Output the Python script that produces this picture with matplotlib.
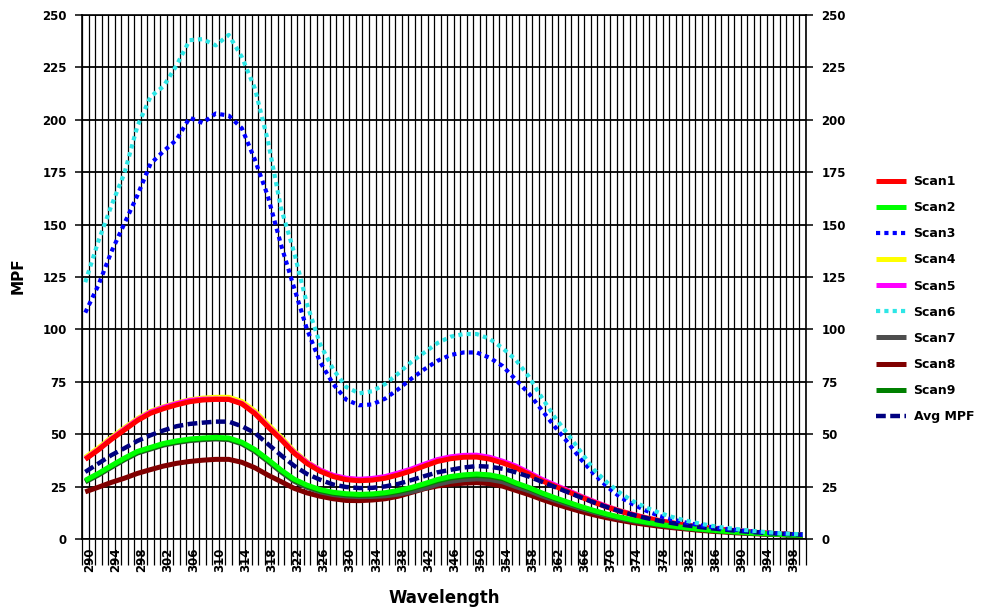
import matplotlib as mpl
mpl.use('Agg')

import numpy as np
import matplotlib.pyplot as plt
import matplotlib.transforms as mtransforms

# spectra sampled every 2 nm, 290-400 nm
wavelength = np.arange(290, 401, 2)

scan1 = [38, 42.5, 47.5, 52, 56.5, 60, 62.2, 64, 65.5, 66.3,
         66.6, 66.6, 64.5, 59.8, 53.5, 47.5, 41, 36, 32.3, 29.8,
         28.3, 27.8, 28.1, 29, 30.6, 32.5, 34.8, 37, 38.3, 39,
         39.1, 38.1, 36.3, 34, 31, 27.8, 25.2, 22.6, 20, 17.5,
         15.2, 13.2, 11.5, 10, 8.7, 7.6, 6.6, 5.7, 5, 4.4,
         3.8, 3.3, 2.9, 2.5, 2.2, 1.9]
scan2 = [28, 31.3, 35, 38.6, 41.8, 43.7, 45.6, 46.8, 47.7, 48.2,
         48.5, 48.2, 46.2, 42.7, 38, 33, 28.6, 25.7, 23.6, 22.3,
         21.6, 21.3, 21.5, 22.1, 23.2, 24.6, 26.4, 28.4, 29.8, 30.6,
         31, 30.6, 29.4, 26.8, 24.6, 22, 19.7, 17.6, 15.5, 13.6,
         11.9, 10.4, 9.1, 8, 7, 6.2, 5.4, 4.8, 4.2, 3.7,
         3.3, 2.9, 2.6, 2.3, 2, 1.8]
scan3 = [108, 121, 137, 150.5, 164, 179, 185, 190.5, 201, 198.5,
         203, 202, 196, 181, 163.5, 140.5, 120, 100, 84.5, 74,
         66.5, 63.8, 64.2, 67, 71.5, 76.5, 81, 85, 87.8, 89,
         89, 86.5, 82.5, 76, 69.5, 61.5, 53.5, 46, 38, 31,
         25, 20, 16.5, 13.5, 11, 9.3, 7.9, 6.7, 5.7, 4.9,
         4.3, 3.7, 3.2, 2.8, 2.4, 2.1]
scan4 = [38.9, 43.4, 48.4, 53, 57.4, 60.9, 63.1, 64.9, 66.4, 67.2,
         67.6, 67.6, 65.6, 61, 54.7, 48.6, 42, 36.8, 32.9, 30.3,
         28.7, 28.2, 28.5, 29.4, 31, 32.9, 35.2, 37.4, 38.7, 39.4,
         39.5, 38.5, 36.7, 34.4, 31.4, 28.2, 25.6, 23, 20.4, 17.8,
         15.5, 13.5, 11.7, 10.2, 8.9, 7.8, 6.7, 5.8, 5.1, 4.5,
         3.9, 3.4, 3, 2.6, 2.3, 2]
scan5 = [38.2, 42.7, 47.8, 52.4, 56.9, 60.5, 62.8, 64.6, 66.1, 66.7,
         66.8, 66.7, 64.7, 60.1, 53.8, 47.8, 41.4, 36.5, 32.9, 30.4,
         29, 28.5, 28.9, 29.8, 31.5, 33.4, 35.7, 37.9, 39.2, 39.9,
         40, 39, 37.1, 34.8, 31.7, 28.5, 25.8, 23.1, 20.4, 17.9,
         15.5, 13.4, 11.7, 10.1, 8.8, 7.7, 6.7, 5.8, 5.1, 4.5,
         3.9, 3.4, 2.9, 2.5, 2.2, 1.9]
scan6 = [122.5, 142, 159, 174.5, 197, 211, 216, 226, 238, 238.5,
         235.5, 240.5, 230, 215, 190, 158, 137, 112, 93, 81,
         72.5, 69.5, 70.5, 74, 79, 84.5, 89, 93.5, 96.5, 97.8,
         97.8, 95.5, 91, 85.5, 77.5, 67.5, 58, 50, 41.5, 33,
         27, 22, 18, 15, 12.5, 10.5, 8.8, 7.5, 6.3, 5.4,
         4.7, 4, 3.4, 2.9, 2.5, 2.2]
scan7 = [27.2, 30.5, 34.2, 37.8, 41, 42.9, 44.8, 46, 46.9, 47.4,
         47.7, 47.4, 45.4, 41.8, 37, 32, 27.6, 24.6, 22.5, 21.2,
         20.5, 20.2, 20.3, 20.6, 21.4, 22.6, 24.2, 26.1, 27.5, 28.3,
         28.7, 28.4, 27.3, 25, 23, 20.6, 18.5, 16.5, 14.6, 12.8,
         11.2, 9.8, 8.6, 7.6, 6.7, 5.9, 5.2, 4.6, 4.1, 3.6,
         3.2, 2.8, 2.5, 2.2, 1.9, 1.7]
scan8 = [22.5, 24.7, 27, 29, 31.3, 33.1, 34.8, 36.1, 37, 37.6,
         38, 38, 36.6, 34, 30.5, 27.4, 24.2, 22, 20.4, 19.2,
         18.4, 18.3, 18.6, 19.2, 20.4, 22.2, 24, 25.3, 26.1, 26.6,
         26.9, 26.4, 25.2, 23.2, 21.2, 18.9, 16.8, 14.9, 13.1, 11.5,
         10.1, 8.9, 7.8, 6.9, 6.1, 5.4, 4.8, 4.2, 3.7, 3.3,
         2.9, 2.6, 2.3, 2.1, 1.9, 1.7]
scan9 = [27.5, 30.8, 34.5, 38.1, 41.3, 43.2, 45.1, 46.3, 47.2, 47.7,
         48, 47.7, 45.7, 42.2, 37.5, 32.5, 28.1, 25.2, 23.1, 21.8,
         21.1, 20.8, 21, 21.6, 22.6, 24, 25.8, 27.7, 29.1, 29.9,
         30.3, 29.9, 28.8, 26.3, 24.1, 21.6, 19.3, 17.2, 15.2, 13.3,
         11.6, 10.2, 8.9, 7.8, 6.9, 6.1, 5.3, 4.7, 4.1, 3.6,
         3.2, 2.8, 2.5, 2.2, 1.9, 1.7]
avg_mpf = [32, 36, 40, 43.3, 46.8, 49.5, 51.8, 53.8, 54.9, 55.5,
           56, 56, 53.8, 50.6, 45.3, 40, 35, 31, 28.3, 26,
           24.8, 24.3, 24.4, 25.1, 26.3, 28.1, 30, 31.8, 33, 34.1,
           34.8, 34.5, 33.5, 31.8, 29.8, 27.3, 24.8, 22.3, 19.8, 17.4,
           15.2, 13.2, 11.5, 10, 8.7, 7.6, 6.6, 5.8, 5.1, 4.5,
           3.9, 3.4, 3, 2.6, 2.3, 2]

label_ticks = np.arange(290, 399, 4)
y_ticks = np.arange(0, 251, 25)

plt.rcParams['font.family'] = ['DejaVu Sans']
plt.rcParams['font.weight'] = 'bold'

fig = plt.figure(figsize=(9.83, 6.09), dpi=100)
ax = fig.add_axes([82 / 983, 1 - 539 / 609, 724 / 983, 524 / 609])

solid = dict(lw=3.6, solid_capstyle='butt')
dotted = dict(lw=3.0, linestyle=(0, (1, 1)))

# draw order chosen so the red / green lines sit on top of their neighbours
series = {}
series['Scan4'], = ax.plot(wavelength, scan4, color='#FFFF00', zorder=3, **solid)
series['Scan5'], = ax.plot(wavelength, scan5, color='#FF00FF', zorder=3, **solid)
series['Scan1'], = ax.plot(wavelength, scan1, color='#FF0000', zorder=4, **solid)
series['Scan8'], = ax.plot(wavelength, scan8, color='#800000', zorder=3, **solid)
series['Scan7'], = ax.plot(wavelength, scan7, color='#4D4D4D', zorder=3, **solid)
series['Scan9'], = ax.plot(wavelength, scan9, color='#008000', zorder=3, **solid)
series['Scan2'], = ax.plot(wavelength, scan2, color='#00FF00', zorder=4, **solid)
series['Avg MPF'], = ax.plot(wavelength, avg_mpf, color='#000080', lw=3.2,
                             linestyle=(0, (2.2, 1)), zorder=5)
series['Scan3'], = ax.plot(wavelength, scan3, color='#0000FF', zorder=5, **dotted)
series['Scan6'], = ax.plot(wavelength, scan6, color='#2EE6E6', zorder=5, **dotted)

ax.set_xlim(289.5, 400.5)
ax.set_ylim(0, 250)

# one gridline / tick per nm, labels every 4 nm
ax.set_xticks(np.arange(289.5, 401, 1))
ax.set_xticklabels([])
ax.set_xticks(label_ticks, minor=True)
ax.set_xticklabels([str(v) for v in label_ticks], minor=True, rotation=90,
                   fontsize=8.5, fontweight='bold', va='top')
ax.tick_params(axis='x', which='major', direction='out', length=19, width=0.9,
               color='black')
ax.tick_params(axis='x', which='minor', length=0, pad=6)
offset = mtransforms.ScaledTranslation(4 / 100, 0, fig.dpi_scale_trans)
for lbl in ax.xaxis.get_minorticklabels():
    lbl.set_transform(lbl.get_transform() + offset)

ax.set_yticks(y_ticks)
ax.tick_params(axis='y', which='major', direction='out', length=5, width=1.1,
               labelsize=8.5, left=True, right=True, labelleft=True,
               labelright=True, pad=6)
for lbl in ax.get_yticklabels():
    lbl.set_fontweight('bold')

ax.grid(True, axis='x', which='major', color='black', lw=0.9)
ax.grid(True, axis='y', which='major', color='black', lw=1.3)
ax.set_axisbelow(True)
for sp in ax.spines.values():
    sp.set_linewidth(1.2)

fig.text(444 / 983, 1 - 598 / 609, 'Wavelength', ha='center', va='center',
         fontsize=12, fontweight='bold')
fig.text(18 / 983, 1 - 276 / 609, 'MPF', ha='center', va='center',
         rotation=90, fontsize=11, fontweight='bold')

order = ['Scan1', 'Scan2', 'Scan3', 'Scan4', 'Scan5', 'Scan6', 'Scan7',
         'Scan8', 'Scan9', 'Avg MPF']
fig.legend([series[k] for k in order], order, loc='upper left',
           bbox_to_anchor=(876 / 983, 1 - 175 / 609), frameon=False,
           prop={'weight': 'bold', 'size': 9},
           handlelength=2.4, handletextpad=0.6, labelspacing=1.05,
           borderpad=0, borderaxespad=0)

fig.savefig('out.png', dpi=100)
